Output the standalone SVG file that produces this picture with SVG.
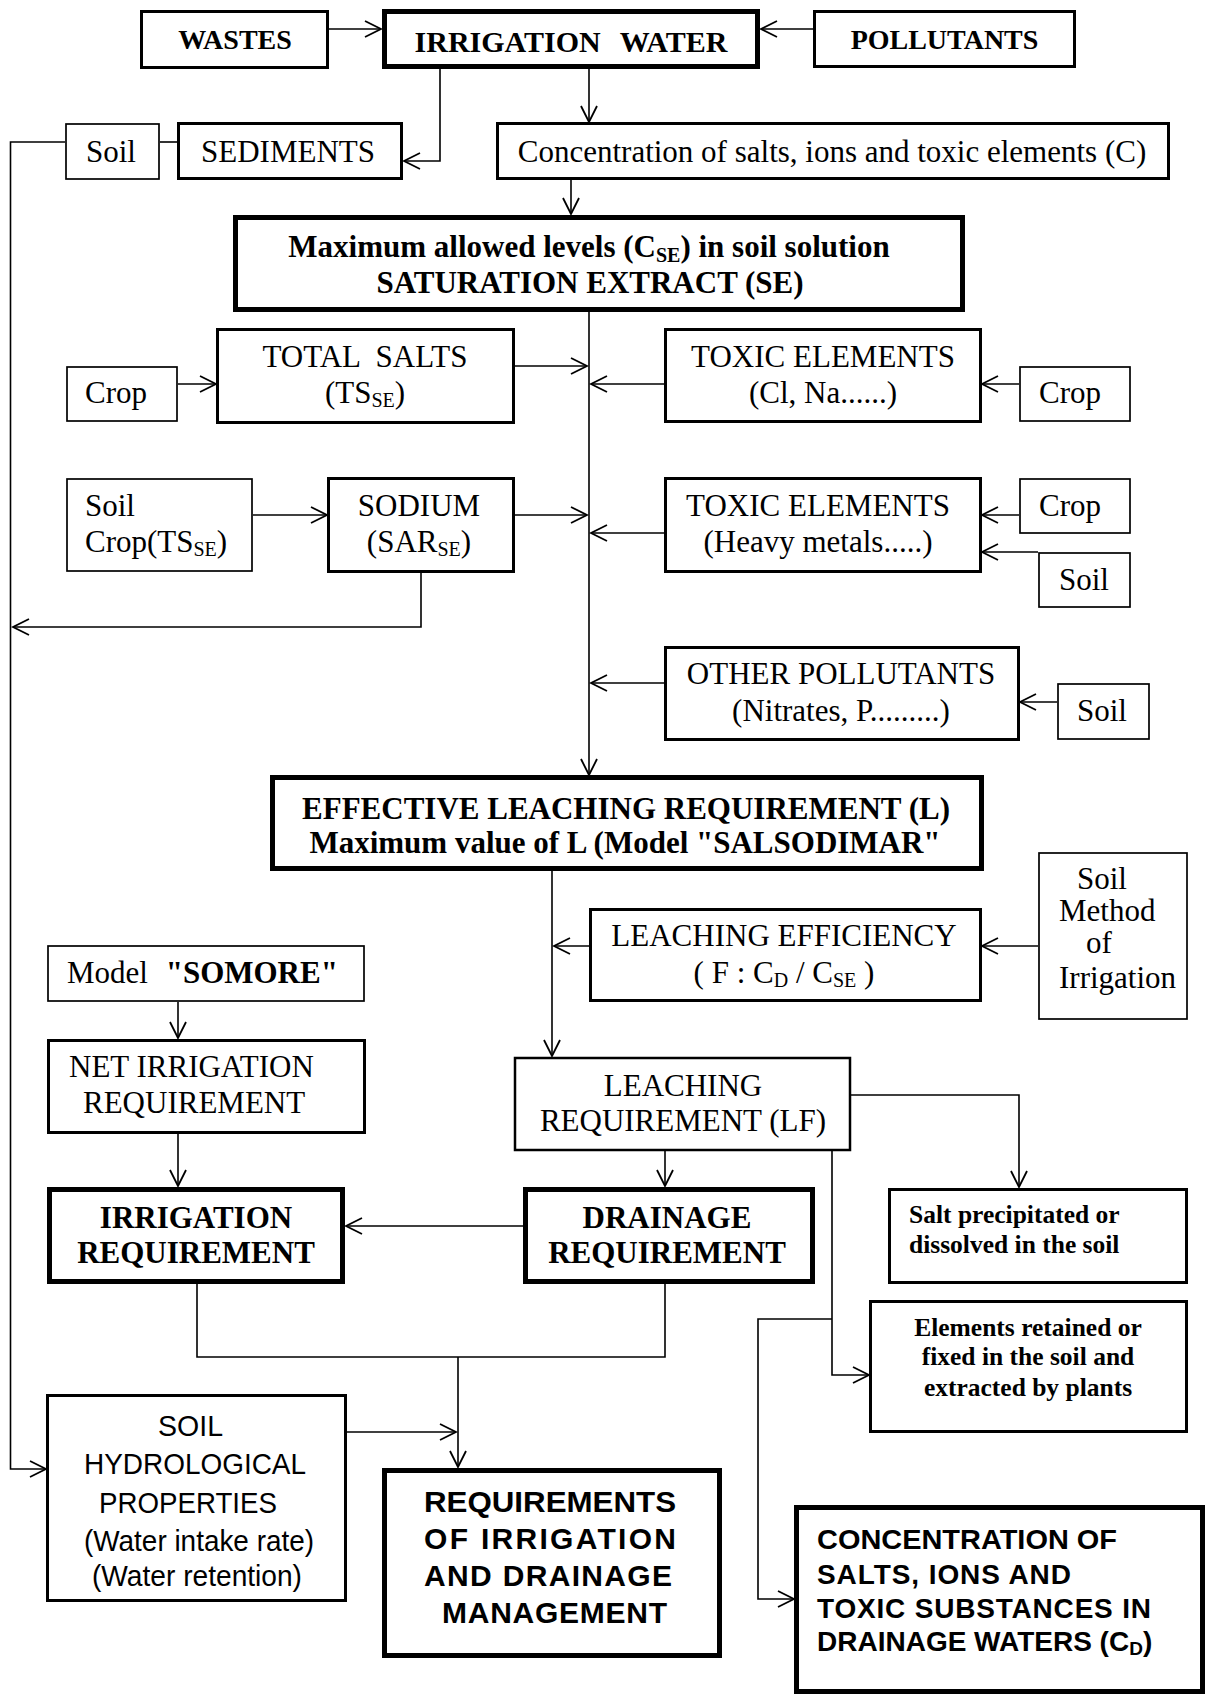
<svg xmlns="http://www.w3.org/2000/svg" width="1207" height="1695" viewBox="0 0 1207 1695">
<style>
.box{fill:#fff;stroke:#000}
.w1{stroke-width:1.7}
.w2{stroke-width:2.5}
.w3{stroke-width:3}
.w5{stroke-width:5}
.ln{fill:none;stroke:#000;stroke-width:1.6}
.serif{font-family:"Liberation Serif","Times New Roman",serif;font-size:31px;fill:#000}
.bold{font-weight:bold}
.mid{text-anchor:middle}
.top{font-size:28px}
.small{font-size:25.5px}
.sub{font-size:20px}
.sans{font-family:"Liberation Sans",Arial,sans-serif;fill:#000}
.hyd{font-size:30px}
.req{font-size:30px;font-weight:bold}
.cd{font-size:28px;font-weight:bold}
</style>
<defs>
<marker id="ah" viewBox="0 0 20 20" refX="18" refY="10" markerWidth="20" markerHeight="20" markerUnits="userSpaceOnUse" orient="auto">
<path d="M2,2 L18,10 L2,18" fill="none" stroke="#000" stroke-width="1.8"/>
</marker>
</defs>
<rect width="1207" height="1695" fill="#fff"/>

<g id="connectors">
<path class="ln" d="M329,29 L381,29" marker-end="url(#ah)"/>
<path class="ln" d="M813,29 L761,29" marker-end="url(#ah)"/>
<path class="ln" d="M440,69 L440,161 L404,161" marker-end="url(#ah)"/>
<path class="ln" d="M589,69 L589,122" marker-end="url(#ah)"/>
<path class="ln" d="M571,180 L571,214" marker-end="url(#ah)"/>
<path class="ln" d="M65,142 L10.5,142 L10.5,1469 L46,1469" marker-end="url(#ah)"/>
<path class="ln" d="M160,142 L177,142"/>
<path class="ln" d="M589,312 L589,775" marker-end="url(#ah)"/>
<path class="ln" d="M178,384 L216,384" marker-end="url(#ah)"/>
<path class="ln" d="M515,366 L587,366" marker-end="url(#ah)"/>
<path class="ln" d="M664,384 L591,384" marker-end="url(#ah)"/>
<path class="ln" d="M1019,384 L982,384" marker-end="url(#ah)"/>
<path class="ln" d="M253,515 L327,515" marker-end="url(#ah)"/>
<path class="ln" d="M515,515 L587,515" marker-end="url(#ah)"/>
<path class="ln" d="M664,533 L591,533" marker-end="url(#ah)"/>
<path class="ln" d="M1019,515 L982,515" marker-end="url(#ah)"/>
<path class="ln" d="M1038,552 L982,552" marker-end="url(#ah)"/>
<path class="ln" d="M664,683 L591,683" marker-end="url(#ah)"/>
<path class="ln" d="M1057,702 L1020,702" marker-end="url(#ah)"/>
<path class="ln" d="M421,573 L421,627 L13,627" marker-end="url(#ah)"/>
<path class="ln" d="M552,871 L552,1056" marker-end="url(#ah)"/>
<path class="ln" d="M589,946 L554,946" marker-end="url(#ah)"/>
<path class="ln" d="M1038,946 L982,946" marker-end="url(#ah)"/>
<path class="ln" d="M178,1002 L178,1038" marker-end="url(#ah)"/>
<path class="ln" d="M178,1134 L178,1186" marker-end="url(#ah)"/>
<path class="ln" d="M665,1151 L665,1186" marker-end="url(#ah)"/>
<path class="ln" d="M851,1095 L1019,1095 L1019,1187" marker-end="url(#ah)"/>
<path class="ln" d="M523,1226 L346,1226" marker-end="url(#ah)"/>
<path class="ln" d="M832,1151 L832,1375 L869,1375" marker-end="url(#ah)"/>
<path class="ln" d="M832,1319 L758,1319 L758,1599 L794,1599" marker-end="url(#ah)"/>
<path class="ln" d="M197,1284 L197,1357 L665,1357 L665,1284"/>
<path class="ln" d="M458,1357 L458,1467" marker-end="url(#ah)"/>
<path class="ln" d="M347,1432 L456,1432" marker-end="url(#ah)"/>
</g>

<g id="wastes"><rect class="box w3" x="141.5" y="11.5" width="186" height="56"/>
<text class="serif bold top mid" x="235" y="49">WASTES</text></g>
<g id="irrigation-water"><rect class="box w5" x="384.5" y="11.5" width="373" height="55"/>
<text class="serif bold mid" x="571" y="52" style="font-size:30px" word-spacing="12">IRRIGATION WATER</text></g>
<g id="pollutants"><rect class="box w3" x="814.5" y="11.5" width="260" height="55"/>
<text class="serif bold top mid" x="944.5" y="49">POLLUTANTS</text></g>

<g id="soil-top"><rect class="box w1" x="66" y="124" width="93" height="55"/>
<text class="serif mid" x="111" y="162">Soil</text></g>
<g id="sediments"><rect class="box w3" x="178.5" y="123.5" width="223" height="55"/>
<text class="serif mid" x="288" y="162">SEDIMENTS</text></g>
<g id="concentration"><rect class="box w3" x="497.5" y="123.5" width="671" height="55"/>
<text class="serif mid" x="832" y="162">Concentration of salts, ions and toxic elements (C)</text></g>

<g id="max-levels"><rect class="box w5" x="235.5" y="217.5" width="727" height="92"/>
<text class="serif bold mid" x="589" y="257">Maximum allowed levels (C<tspan class="sub" dy="5">SE</tspan><tspan dy="-5">) in soil solution</tspan></text>
<text class="serif bold mid" x="590" y="293">SATURATION EXTRACT (SE)</text></g>

<g id="crop-1"><rect class="box w1" x="67" y="367" width="110" height="54"/>
<text class="serif" x="85" y="403">Crop</text></g>
<g id="total-salts"><rect class="box w3" x="217.5" y="329.5" width="296" height="93"/>
<text class="serif mid" x="365" y="367" word-spacing="8">TOTAL SALTS</text>
<text class="serif mid" x="365" y="403">(TS<tspan class="sub" dy="4">SE</tspan><tspan dy="-4">)</tspan></text></g>
<g id="toxic-cl"><rect class="box w3" x="665.5" y="329.5" width="315" height="92"/>
<text class="serif mid" x="823" y="367">TOXIC ELEMENTS</text>
<text class="serif mid" x="823" y="403">(Cl, Na......)</text></g>
<g id="crop-2"><rect class="box w1" x="1020" y="367" width="110" height="54"/>
<text class="serif" x="1039" y="403">Crop</text></g>

<g id="soil-crop"><rect class="box w1" x="67" y="479" width="185" height="92"/>
<text class="serif" x="85" y="516">Soil</text>
<text class="serif" x="85" y="552">Crop(TS<tspan class="sub" dy="4">SE</tspan><tspan dy="-4">)</tspan></text></g>
<g id="sodium"><rect class="box w3" x="328.5" y="478.5" width="185" height="93"/>
<text class="serif mid" x="419" y="516">SODIUM</text>
<text class="serif mid" x="419" y="552">(SAR<tspan class="sub" dy="4">SE</tspan><tspan dy="-4">)</tspan></text></g>
<g id="toxic-heavy"><rect class="box w3" x="665.5" y="478.5" width="315" height="93"/>
<text class="serif mid" x="818" y="516">TOXIC ELEMENTS</text>
<text class="serif mid" x="818" y="552">(Heavy metals.....)</text></g>
<g id="crop-3"><rect class="box w1" x="1020" y="479" width="110" height="54"/>
<text class="serif" x="1039" y="516">Crop</text></g>
<g id="soil-2"><rect class="box w1" x="1039" y="553" width="91" height="54"/>
<text class="serif" x="1059" y="590">Soil</text></g>

<g id="other-pollutants"><rect class="box w3" x="665.5" y="647.5" width="353" height="92"/>
<text class="serif mid" x="841" y="684">OTHER POLLUTANTS</text>
<text class="serif mid" x="841" y="721">(Nitrates, P.........)</text></g>
<g id="soil-3"><rect class="box w1" x="1058" y="684" width="91" height="55"/>
<text class="serif" x="1077" y="721">Soil</text></g>

<g id="effective"><rect class="box w5" x="272.5" y="777.5" width="709" height="91"/>
<text class="serif bold mid" x="626" y="819">EFFECTIVE LEACHING REQUIREMENT (L)</text>
<text class="serif bold mid" x="625" y="853">Maximum value of L (Model "SALSODIMAR"</text></g>

<g id="leaching-efficiency"><rect class="box w3" x="590.5" y="909.5" width="390" height="91"/>
<text class="serif mid" x="784" y="946">LEACHING EFFICIENCY</text>
<text class="serif mid" x="784" y="983">( F :  C<tspan class="sub" dy="4">D</tspan><tspan dy="-4"> / C</tspan><tspan class="sub" dy="4">SE</tspan><tspan dy="-4"> )</tspan></text></g>
<g id="soil-method"><rect class="box w1" x="1039" y="853" width="148" height="166"/>
<text class="serif" x="1077" y="889">Soil</text>
<text class="serif" x="1059" y="921">Method</text>
<text class="serif" x="1086" y="953">of</text>
<text class="serif" x="1059" y="988">Irrigation</text></g>

<g id="somore"><rect class="box w1" x="48" y="946" width="316" height="55"/>
<text class="serif" x="67" y="983">Model <tspan class="bold" dx="10">"SOMORE"</tspan></text></g>
<g id="net-irrigation"><rect class="box w3" x="48.5" y="1040.5" width="316" height="92"/>
<text class="serif" x="69" y="1077">NET IRRIGATION</text>
<text class="serif" x="83" y="1113">REQUIREMENT</text></g>

<g id="leaching-requirement"><rect class="box w2" x="515" y="1058" width="335" height="92"/>
<text class="serif mid" x="683" y="1096">LEACHING</text>
<text class="serif mid" x="683" y="1131">REQUIREMENT (LF)</text></g>

<g id="irrigation-requirement"><rect class="box w5" x="49.5" y="1189.5" width="293" height="92"/>
<text class="serif bold mid" x="196" y="1228">IRRIGATION</text>
<text class="serif bold mid" x="196" y="1263">REQUIREMENT</text></g>
<g id="drainage-requirement"><rect class="box w5" x="525.5" y="1189.5" width="287" height="92"/>
<text class="serif bold mid" x="667" y="1228">DRAINAGE</text>
<text class="serif bold mid" x="667" y="1263">REQUIREMENT</text></g>
<g id="salt-precipitated"><rect class="box w3" x="889.5" y="1189.5" width="297" height="93"/>
<text class="serif bold small" x="909" y="1223">Salt precipitated or</text>
<text class="serif bold small" x="909" y="1253">dissolved in the soil</text></g>
<g id="elements-retained"><rect class="box w3" x="870.5" y="1301.5" width="316" height="130"/>
<text class="serif bold small mid" x="1028" y="1336">Elements retained or</text>
<text class="serif bold small mid" x="1028" y="1365">fixed in the soil and</text>
<text class="serif bold small mid" x="1028" y="1396">extracted by plants</text></g>

<g id="soil-hydrological"><rect class="box w3" x="47.5" y="1395.5" width="298" height="205"/>
<text class="sans hyd" x="158" y="1436" textLength="65" lengthAdjust="spacingAndGlyphs">SOIL</text>
<text class="sans hyd" x="84" y="1474" textLength="222" lengthAdjust="spacingAndGlyphs">HYDROLOGICAL</text>
<text class="sans hyd" x="99" y="1513" textLength="178" lengthAdjust="spacingAndGlyphs">PROPERTIES</text>
<text class="sans hyd" x="84" y="1551" textLength="230" lengthAdjust="spacingAndGlyphs">(Water intake rate)</text>
<text class="sans hyd" x="92" y="1586" textLength="210" lengthAdjust="spacingAndGlyphs">(Water retention)</text></g>

<g id="requirements-management"><rect class="box w5" x="384.5" y="1470.5" width="335" height="185"/>
<text class="sans req" x="424" y="1512" textLength="252" lengthAdjust="spacingAndGlyphs">REQUIREMENTS</text>
<text class="sans req" x="424" y="1549" textLength="252">OF IRRIGATION</text>
<text class="sans req" x="424" y="1586" textLength="248">AND DRAINAGE</text>
<text class="sans req" x="442" y="1623" textLength="225">MANAGEMENT</text></g>

<g id="concentration-drainage"><rect class="box w5" x="796.5" y="1507.5" width="406" height="184"/>
<text class="sans cd" x="817" y="1549" textLength="300" lengthAdjust="spacingAndGlyphs">CONCENTRATION OF</text>
<text class="sans cd" x="817" y="1584" textLength="254">SALTS, IONS AND</text>
<text class="sans cd" x="817" y="1618" textLength="334">TOXIC SUBSTANCES IN</text>
<text class="sans cd" x="817" y="1651">DRAINAGE WATERS (C<tspan style="font-size:19px" dy="4">D</tspan><tspan dy="-4">)</tspan></text></g>
</svg>
